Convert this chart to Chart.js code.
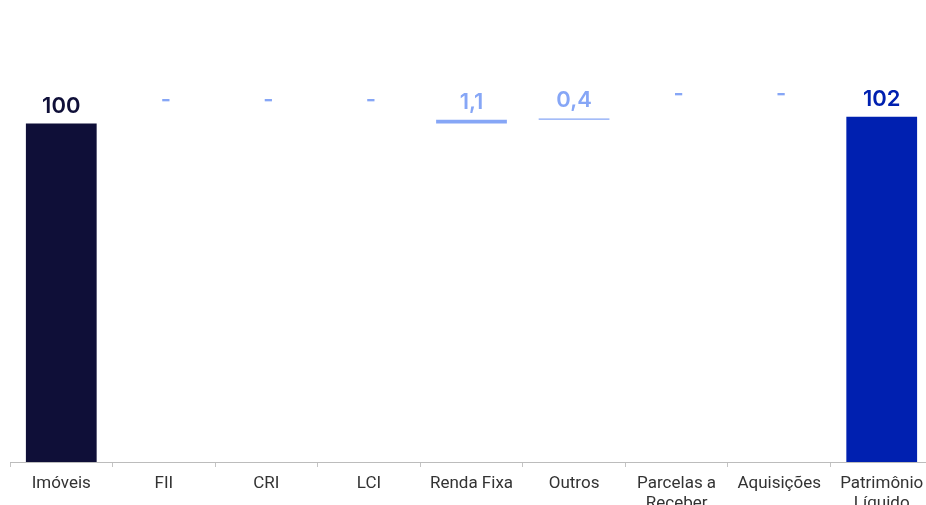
<!DOCTYPE html>
<html>
<head>
<meta charset="utf-8">
<script src="https://cdn.jsdelivr.net/npm/chart.js@4.4.1/dist/chart.umd.min.js"></script>
<style>
  html, body { margin: 0; padding: 0; background: #fff; overflow: hidden; }
  #box { position: relative; width: 943px; height: 505px; }
</style>
</head>
<body>
<div id="box"><canvas id="grafico"></canvas></div>
<script>
const categorias = ['Imóveis', 'FII', 'CRI', 'LCI', 'Renda Fixa', 'Outros', ['Parcelas a', 'Receber'], 'Aquisições', ['Patrimônio', 'Líquido']];
const valores = [100, 0, 0, 0, 1.1, 0.4, 0, 0, 102];
const tipos = ['total', 'delta', 'delta', 'delta', 'delta', 'delta', 'delta', 'delta', 'total'];

const corInicio = '#0f0f38';
const corFim = '#0020b0';
const corDelta = '#86a6f6';

// monta as barras flutuantes do waterfall
let acumulado = 0;
const barras = [];
const cores = [];
const rotulos = [];
valores.forEach((v, i) => {
    if (tipos[i] == 'total') {
        barras.push([0, v]);
        acumulado = v;
        rotulos.push(String(Math.round(v)));
        cores.push(i == 0 ? corInicio : corFim);
    } else {
        barras.push([acumulado, acumulado + v]);
        acumulado = acumulado + v;
        rotulos.push(v == 0 ? '-' : v.toFixed(1).replace('.', ','));
        cores.push(corDelta);
    }
});

const pluginRotulos = {
    id: 'rotulos',
    afterDatasetsDraw(chart) {
        const ctx = chart.ctx;
        const meta = chart.getDatasetMeta(0);
        ctx.save();
        ctx.font = '600 22px Inter';
        ctx.textAlign = 'center';
        ctx.textBaseline = 'alphabetic';
        meta.data.forEach((bar, i) => {
            const topo = Math.min(bar.y, bar.base);
            const vazio = valores[i] == 0;
            ctx.fillStyle = cores[i];
            ctx.fillText(rotulos[i], bar.x + (vazio ? 2 : 0), topo - (vazio ? 17 : 11));
        });
        ctx.restore();
    }
};

const ctx = document.getElementById('grafico');

new Chart(ctx, {
    type: 'bar',
    data: {
        labels: categorias,
        datasets: [{
            data: barras,
            backgroundColor: cores,
            borderWidth: 0,
            categoryPercentage: 1,
            barPercentage: 0.69
        }]
    },
    options: {
        responsive: true,
        maintainAspectRatio: false,
        animation: false,
        layout: { padding: { left: 10, right: 10, top: 22, bottom: 0 } },
        plugins: {
            legend: { display: false },
            tooltip: { enabled: false }
        },
        scales: {
            y: {
                display: false,
                min: 0,
                max: 130
            },
            x: {
                afterFit(scale) { scale.height = 43; },
                border: { display: true, color: '#bcbcbc', dash: [2, 1], width: 1 },
                grid: { drawOnChartArea: false, drawTicks: true, tickLength: 5, color: '#c4c4c4' },
                ticks: {
                    color: '#333333',
                    padding: 7,
                    maxRotation: 0,
                    autoSkip: false,
                    font: { family: 'Roboto', size: 17, lineHeight: 1.15 }
                }
            }
        }
    },
    plugins: [pluginRotulos]
});
</script>
</body>
</html>
